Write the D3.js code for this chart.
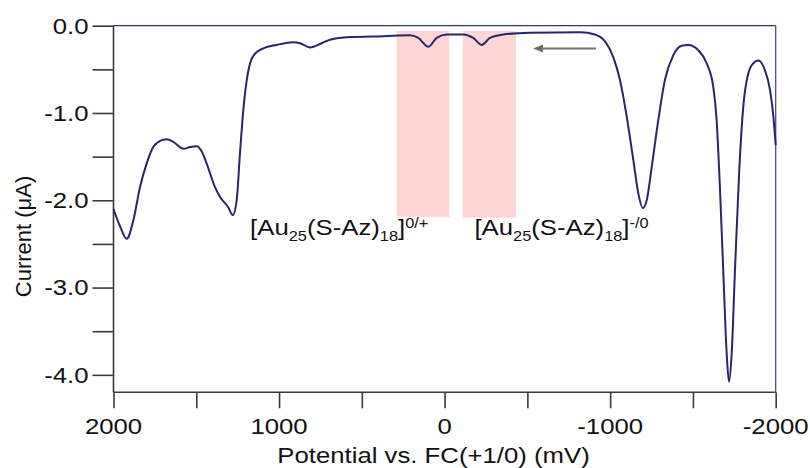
<!DOCTYPE html>
<html><head><meta charset="utf-8">
<script src="https://cdn.jsdelivr.net/npm/d3@7"></script>
<style>
body{margin:0;background:#fff}
svg{display:block}
text{font-family:"Liberation Sans",Arial,Helvetica,sans-serif;fill:#111}
</style>
</head><body>
<svg id="chart" width="810" height="468"></svg>
<script>
// ---- data ----
const potential = [2000,1960,1920,1880,1840,1800,1760,1719,1679,1639,1578,1538,1497,1467,1437,1387,1357,1307,1280,1256,1236,1216,1195,1175,1145,1095,1014,914,873,813,753,692,571,370,209,159,98,48,-13,-113,-173,-224,-274,-354,-516,-818,-908,-969,-1019,-1059,-1100,-1140,-1170,-1197,-1221,-1251,-1291,-1331,-1381,-1432,-1472,-1532,-1583,-1623,-1643,-1663,-1683,-1704,-1718,-1734,-1754,-1780,-1804,-1834,-1865,-1895,-1935,-1966,-1986,-2000];
const current = [-2.10,-2.30,-2.44,-2.23,-1.85,-1.58,-1.39,-1.32,-1.30,-1.33,-1.41,-1.39,-1.38,-1.44,-1.58,-1.85,-1.96,-2.08,-2.17,-2.00,-1.46,-0.97,-0.62,-0.43,-0.32,-0.26,-0.22,-0.19,-0.20,-0.25,-0.21,-0.16,-0.13,-0.12,-0.11,-0.14,-0.24,-0.14,-0.10,-0.10,-0.14,-0.22,-0.14,-0.10,-0.08,-0.076,-0.10,-0.18,-0.36,-0.62,-1.04,-1.54,-1.92,-2.09,-2.00,-1.62,-1.08,-0.62,-0.34,-0.23,-0.22,-0.28,-0.43,-0.70,-1.08,-1.85,-2.80,-3.76,-4.08,-3.76,-2.80,-1.65,-0.93,-0.55,-0.43,-0.40,-0.51,-0.74,-1.04,-1.37];

const xMajorTicks = [2000,1000,0,-1000,-2000];
const xMinorTicks = [1500,500,-500,-1500];
const yMajorTicks = [0,-1,-2,-3,-4];
const yMinorTicks = [-0.5,-1.5,-2.5,-3.5];

const bandFrom = [290,-110];
const bandTo = [-28,-431];
const bandTop = [-0.06,-0.06];
const bandBottom = [-2.19,-2.20];

const labelPotential = [1175,-180];
const labelCurrent = [-2.4,-2.4];
const labelMain1 = ["[Au","(S-Az)","]"];
const labelSub = ["25","18"];
const labelSup = ["0/+","-/0"];

const arrowFrom = [-914,-0.26];
const arrowTo = [-534,-0.26];

const xTitle = "Potential vs. FC(+1/0) (mV)";
const yTitle = "Current (\u03BCA)";

// ---- layout ----
const W=810,H=468;
const L=113.5,R=775.7,T=25.7,B=392.3;
const SX=1.17; // horizontal text stretch seen in the reference
const svg=d3.select("#chart");
const x=d3.scaleLinear().domain([2000,-2000]).range([L,R]);
const y=d3.scaleLinear().domain([0,-4.2]).range([T,B]);

// bands
svg.append("g").selectAll("rect").data(bandFrom).join("rect")
  .attr("x",(d,i)=>x(d)).attr("width",(d,i)=>x(bandTo[i])-x(d))
  .attr("y",(d,i)=>y(bandTop[i])).attr("height",(d,i)=>y(bandBottom[i])-y(bandTop[i]))
  .attr("fill","#ffd6d6");

// axes
const axisColor="#3a3a3a";
const yAxis=d3.axisLeft(y).tickValues(yMajorTicks.concat(yMinorTicks)).tickSize(21).tickFormat("");
const gy=svg.append("g").attr("transform",`translate(${L},0)`).call(yAxis);
gy.select(".domain").remove();
gy.selectAll("line").attr("stroke",axisColor).attr("stroke-width",1.6);
const xAxis=d3.axisBottom(x).tickValues(xMajorTicks.concat(xMinorTicks)).tickSize(16).tickFormat("");
const gx=svg.append("g").attr("transform",`translate(0,${B})`).call(xAxis);
gx.select(".domain").remove();
gx.selectAll("line").attr("stroke",axisColor).attr("stroke-width",1.6);

// axis lines
svg.append("line").attr("x1",L).attr("x2",L).attr("y1",T).attr("y2",B).attr("stroke",axisColor).attr("stroke-width",1.6);
svg.append("line").attr("x1",L).attr("x2",R).attr("y1",B).attr("y2",B).attr("stroke",axisColor).attr("stroke-width",1.6);
// frame top/right
svg.append("line").attr("x1",L).attr("x2",R).attr("y1",T).attr("y2",T).attr("stroke","#34347e").attr("stroke-width",1.3);
svg.append("line").attr("x1",R).attr("x2",R).attr("y1",T).attr("y2",B).attr("stroke","#4a4a90").attr("stroke-width",1.3);

// tick labels
svg.append("g").selectAll("text").data(yMajorTicks).join("text")
  .attr("transform",d=>`translate(${L-25},${y(d)}) scale(${SX},1)`)
  .attr("text-anchor","end").attr("dy","0.36em").attr("font-size",22)
  .text(d=>d.toFixed(1));
svg.append("g").selectAll("text").data(xMajorTicks).join("text")
  .attr("transform",d=>`translate(${x(d)},${B+42}) scale(${SX},1)`)
  .attr("text-anchor","middle").attr("font-size",22)
  .text(d=>String(d));

// titles
svg.append("text").attr("transform",`translate(433.5,${H-5}) scale(${SX},1)`)
  .attr("text-anchor","middle").attr("font-size",22).text(xTitle);
svg.append("text").attr("transform",`translate(31,236.5) rotate(-90)`)
  .attr("text-anchor","middle").attr("font-size",22).text(yTitle);

// curve
const pts=potential.map((p,i)=>[p,current[i]]);
const line=d3.line().x(d=>x(d[0])).y(d=>y(d[1])).curve(d3.curveMonotoneX);
svg.append("path").datum(pts).attr("d",line).attr("fill","none")
  .attr("stroke","#26266a").attr("stroke-width",2).attr("stroke-linejoin","round");

// arrow
const ax1=x(arrowFrom[0]),ax2=x(arrowTo[0]),ay=y(arrowFrom[1]);
svg.append("line").attr("x1",ax1).attr("x2",ax2+8).attr("y1",ay).attr("y2",ay)
  .attr("stroke","#6f6f6f").attr("stroke-width",2);
svg.append("path").attr("d",d3.line()([[ax2,ay],[ax2+10,ay-4],[ax2+10,ay+4]])+"Z").attr("fill","#6f6f6f");

// labels
labelPotential.forEach((p,i)=>{
  const t=svg.append("text").attr("transform",`translate(${x(p)},${y(labelCurrent[i])}) scale(${SX},1)`)
    .attr("font-size",22);
  t.append("tspan").text(labelMain1[0]);
  t.append("tspan").attr("font-size",14).attr("dy",6).text(labelSub[0]);
  t.append("tspan").attr("dy",-6).text(labelMain1[1]);
  t.append("tspan").attr("font-size",14).attr("dy",6).text(labelSub[1]);
  t.append("tspan").attr("dy",-6).text(labelMain1[2]);
  t.append("tspan").attr("font-size",14).attr("dy",-7).text(labelSup[i]);
});
</script>
</body></html>
